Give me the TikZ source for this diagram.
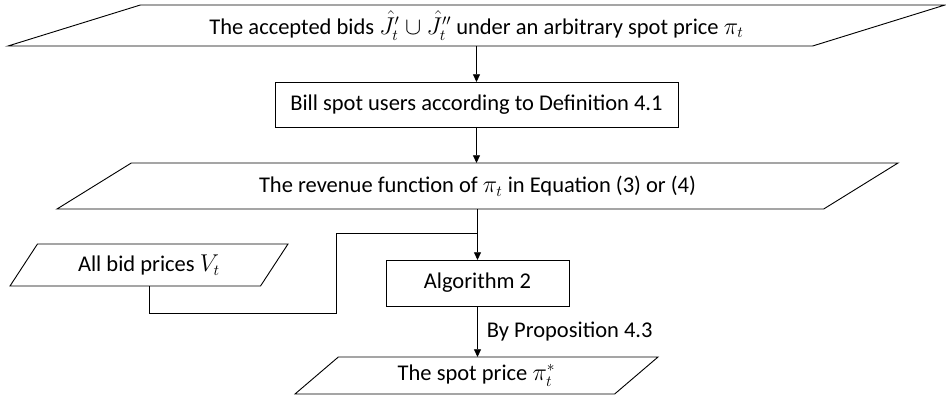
\documentclass[tikz,border=0pt]{standalone}
\usepackage{amsmath}
\usepackage{amssymb}
\usepackage{fontspec}
\setmainfont{Carlito}
\usepackage{tikz}
\usetikzlibrary{shapes.geometric,arrows.meta}

\tikzset{
  iobox/.style 2 args={trapezium, trapezium stretches body, draw, inner sep=0pt, outer sep=0pt,
    trapezium left angle=#1, trapezium right angle=180-#1, minimum width=#2*0.025cm},
  stepbox/.style={rectangle, draw, inner sep=0pt, outer sep=0pt}
}

\begin{document}
\begin{tikzpicture}[x=0.025cm,y=-0.025cm,line width=0.65pt,
    >={Triangle[length=5.5pt,width=5pt]},
    every node/.style={font=\fontsize{16}{19}\selectfont}]
                    \useasboundingbox (0,0) rectangle (946,399);

                    \node[iobox={12.37}{937},minimum height=41*0.025cm] (accepted) at (476.5,25.5)
                        {The accepted bids $\hat{J}'_t \cup \hat{J}''_t$ under an arbitrary spot price $\pi_t$};
                    \node[stepbox,minimum width=403*0.025cm,minimum height=45*0.025cm] (bill) at (476.5,104.5)
                        {Bill spot users according to Definition 4.1};
                    \node[iobox={15.14}{841},minimum height=46*0.025cm] (revenue) at (477.5,186)
                        {The revenue function of $\pi_t$ in Equation (3) or (4)};
                    \node[iobox={36.4}{278},minimum height=42*0.025cm] (bids) at (149,265)
                        {All bid prices $V_t$};
                    \node[stepbox,minimum width=183*0.025cm,minimum height=46*0.025cm] (alg) at (477.5,283)
                        {Algorithm 2};
                    \node[iobox={26.9}{363},minimum height=37*0.025cm] (spot) at (476.5,375.5)
                        {The spot price $\pi^*_t$};

                    \coordinate (lowbend) at (336,313);
                    \coordinate (highbend) at (336,233);

                    \draw[->] (accepted.south -| bill.north) -- (bill.north);
                    \draw[->] (bill.south) -- (bill.south |- revenue.north);
                    \draw[->] (revenue.south -| alg.north) -- (alg.north);
                    \draw (bids.south) |- (lowbend) |- (alg.north |- highbend);
                    \draw[->] (alg.south) -- node[right,xshift=3pt] {By Proposition 4.3} (spot.north -| alg.south);
                \end{tikzpicture}
\end{document}
